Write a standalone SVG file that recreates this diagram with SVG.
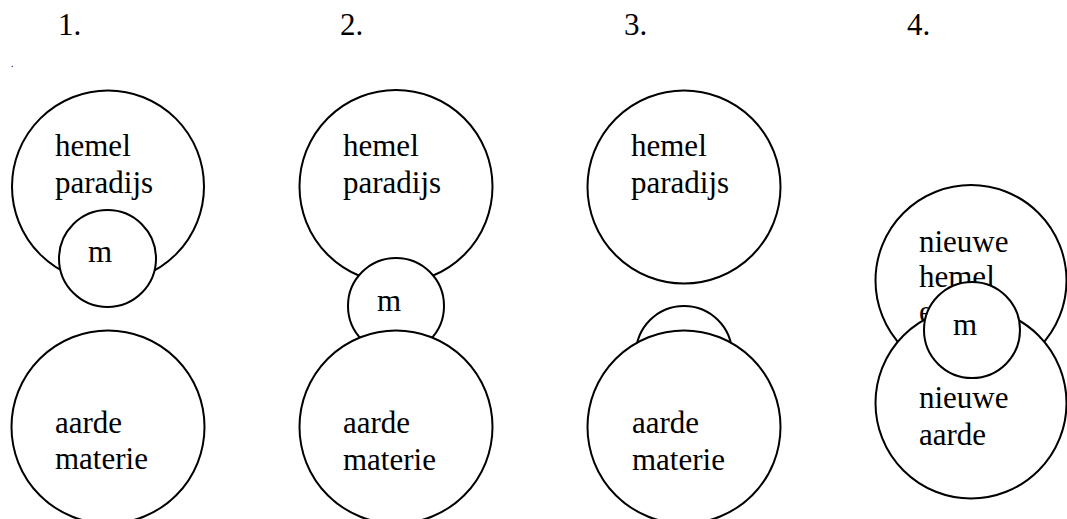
<svg xmlns="http://www.w3.org/2000/svg" width="1067" height="519" viewBox="0 0 1067 519">
<style>
.c{fill:#fff;stroke:#000;stroke-width:2}
</style>
<rect width="1067" height="519" fill="#fff"/>
<g font-family="Liberation Serif, Tinos, DejaVu Serif, serif" font-size="31" fill="#000">
<g id="labels">
<text x="58" y="35">1.</text>
<text x="340" y="35">2.</text>
<text x="624" y="35">3.</text>
<text x="907" y="35">4.</text>
<text x="11" y="67" font-size="10">.</text>
</g>
<g id="p1-hemel"><circle class="c" cx="108" cy="186.5" r="96"/><text x="55" y="156">hemel</text><text x="55" y="193">paradijs</text></g>
<g id="p1-m"><circle class="c" cx="107.5" cy="258.5" r="48.5"/><text x="88" y="262">m</text></g>
<g id="p1-aarde"><circle class="c" cx="108" cy="427" r="96.5"/><text x="55" y="433">aarde</text><text x="55" y="469">materie</text></g>

<g id="p2-hemel"><circle class="c" cx="396" cy="186.5" r="96.5"/><text x="343" y="156">hemel</text><text x="343" y="193">paradijs</text></g>
<g id="p2-m"><circle class="c" cx="396" cy="306" r="48"/><text x="377" y="311">m</text></g>
<g id="p2-aarde"><circle class="c" cx="396" cy="427" r="96.5"/><text x="343" y="433">aarde</text><text x="343" y="470">materie</text></g>

<g id="p3-hemel"><circle class="c" cx="684" cy="187" r="96.5"/><text x="631" y="156">hemel</text><text x="631" y="193">paradijs</text></g>
<g id="p3-m"><circle class="c" cx="684" cy="354" r="48"/></g>
<g id="p3-aarde"><circle class="c" cx="684" cy="427" r="96.5"/><text x="632" y="433">aarde</text><text x="632" y="470">materie</text></g>

<g id="p4-hemel"><circle class="c" cx="971" cy="280.5" r="95.5"/><text x="919" y="252">nieuwe</text><text x="919" y="287">hemel</text><text x="919" y="322">e</text></g>
<g id="p4-aarde"><circle class="c" cx="971" cy="403" r="95.5"/><text x="919" y="408">nieuwe</text><text x="919" y="445">aarde</text></g>
<g id="p4-m"><circle class="c" cx="972" cy="330" r="48"/><text x="953" y="335">m</text></g>
</g>
<g id="connectors"></g>
</svg>
